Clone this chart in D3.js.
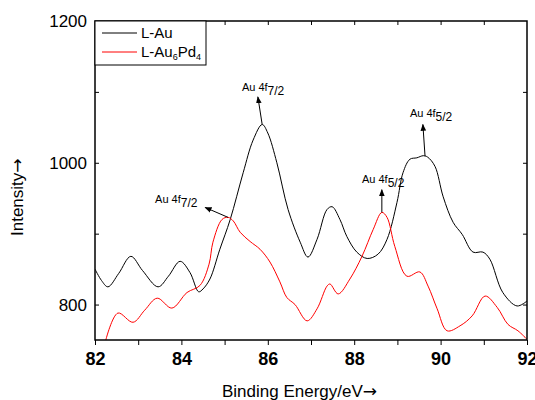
<!DOCTYPE html>
<html>
<head>
<meta charset="utf-8">
<script src="https://cdn.jsdelivr.net/npm/d3@7"></script>
<style>
  body { margin: 0; background: #fff; }
  svg { display: block; font-family: "Liberation Sans", Arial, sans-serif; }
</style>
</head>
<body>
<svg id="chart" width="535" height="400"></svg>
<script>
// binding energy (eV) / intensity
var auX = [82.0, 82.15, 82.3, 82.55, 82.83, 83.1, 83.46, 83.7, 83.97, 84.2, 84.4, 84.5, 84.66, 84.89, 85.13, 85.43, 85.66, 85.87, 86.0, 86.21, 86.47, 86.75, 86.93, 87.14, 87.37, 87.49, 87.67, 87.83, 88.06, 88.3, 88.55, 88.76, 88.99, 89.13, 89.29, 89.45, 89.6, 89.7, 89.87, 90.06, 90.29, 90.5, 90.75, 90.98, 91.14, 91.44, 91.77, 92.0];
var auY = [850, 834, 825, 844, 868, 848, 825, 840, 861, 845, 818, 822, 836, 878, 920, 986, 1032, 1054, 1042, 1000, 934, 888, 867, 892, 934, 938, 920, 896, 874, 865, 871, 892, 944, 986, 1005, 1007, 1010, 1008, 995, 952, 916, 899, 874, 874, 864, 817, 798, 805];

var pdX = [82.25, 82.53, 82.88, 83.15, 83.44, 83.78, 84.13, 84.43, 84.64, 84.73, 84.94, 85.08, 85.2, 85.36, 85.59, 85.82, 86.05, 86.28, 86.44, 86.63, 86.91, 87.14, 87.37, 87.44, 87.63, 87.9, 88.18, 88.44, 88.64, 88.76, 88.94, 89.22, 89.52, 89.71, 89.92, 90.15, 90.45, 90.73, 91.03, 91.31, 91.56, 91.79, 92.0];
var pdY = [750, 788, 775, 792, 809, 795, 817, 827, 857, 888, 920, 923, 918, 902, 889, 878, 860, 832, 810, 800, 777, 794, 826, 829, 815, 836, 868, 906, 930, 923, 882, 840, 846, 826, 794, 763, 770, 784, 812, 796, 772, 763, 751];

var xTicks = [82, 84, 86, 88, 90, 92];
var yTicks = [800, 1000, 1200];
var seriesNames = ["L-Au", "L-Au6Pd4"];

// peak labels: text anchor, arrow tail, arrow head (data units)
var notes = [
  { sub: "7/2", tx: 85.40, ty: 1101, x1: 85.87, y1: 1054, x2: 85.77, y2: 1093 },
  { sub: "7/2", tx: 83.39, ty: 943, x1: 85.08, y1: 923, x2: 84.55, y2: 937 },
  { sub: "5/2", tx: 89.29, ty: 1064, x1: 89.64, y1: 1009, x2: 89.59, y2: 1054 },
  { sub: "5/2", tx: 88.18, ty: 972, x1: 88.64, y1: 930, x2: 88.64, y2: 962 }
];

var svg = d3.select("#chart");
var m = { left: 95, top: 21, right: 8, bottom: 60 };
var w = 535 - m.left - m.right, h = 400 - m.top - m.bottom;

var x = d3.scaleLinear().domain([82, 92]).range([m.left, m.left + w]);
var y = d3.scaleLinear().domain([750, 1200]).range([m.top + h, m.top]);

svg.append("defs").append("marker")
    .attr("id", "head")
    .attr("viewBox", "0 0 10 10")
    .attr("refX", 9).attr("refY", 5)
    .attr("markerWidth", 7).attr("markerHeight", 7)
    .attr("markerUnits", "userSpaceOnUse")
    .attr("orient", "auto")
  .append("path")
    .attr("d", "M0,1L10,5L0,9Z")
    .attr("fill", "#000");

// curves
var line = d3.line()
    .x(function(d) { return x(d[0]) })
    .y(function(d) { return y(d[1]) })
    .curve(d3.curveCatmullRom.alpha(0.5));

svg.append("clipPath").attr("id", "clip")
  .append("rect").attr("x", m.left).attr("y", m.top).attr("width", w).attr("height", h);

var g = svg.append("g").attr("clip-path", "url(#clip)");
g.append("path")
    .datum(d3.zip(auX, auY))
    .attr("d", line)
    .attr("fill", "none")
    .attr("stroke", "#000")
    .attr("stroke-width", 1);
g.append("path")
    .datum(d3.zip(pdX, pdY))
    .attr("d", line)
    .attr("fill", "none")
    .attr("stroke", "#ff0000")
    .attr("stroke-width", 1);

// axes
var bottom = svg.append("g")
    .attr("transform", "translate(0," + (m.top + h) + ")")
    .call(d3.axisBottom(x).tickValues(d3.range(82, 92.1, 1)).tickSize(5).tickFormat(function(d) {
        return xTicks.indexOf(d) >= 0 ? d : "";
    }));
bottom.selectAll("text").attr("font-size", 18).attr("font-weight", "bold").attr("dy", "0.95em");

svg.append("g")
    .attr("transform", "translate(0," + m.top + ")")
    .call(d3.axisBottom(x).tickValues(d3.range(83, 92, 1)).tickSize(4).tickFormat(""));

svg.append("g")
    .attr("transform", "translate(" + m.left + ",0)")
    .call(d3.axisRight(y).tickValues([800, 900, 1000, 1100]).tickSize(4).tickFormat(""));
svg.append("g")
    .attr("transform", "translate(" + m.left + ",0)")
    .call(d3.axisLeft(y).tickValues(yTicks).tickSize(0).tickPadding(8).tickFormat(d3.format("d")))
    .selectAll("text").attr("font-size", 17);

svg.append("g")
    .attr("transform", "translate(" + (m.left + w) + ",0)")
    .call(d3.axisLeft(y).tickValues([800, 900, 1000, 1100]).tickSize(4).tickFormat(""));

svg.selectAll(".domain").remove();
svg.selectAll(".tick line").attr("stroke", "#000").attr("stroke-width", 1);
svg.selectAll(".tick text").attr("fill", "#000").attr("font-family", "Liberation Sans, Arial, sans-serif");

svg.append("rect")
    .attr("x", m.left).attr("y", m.top).attr("width", w).attr("height", h)
    .attr("fill", "none").attr("stroke", "#000").attr("stroke-width", 1.5);

// axis titles
var xt = svg.append("text").attr("x", 222).attr("y", 397).attr("font-size", 17);
xt.append("tspan").text("Binding Energy/eV");
xt.append("tspan").attr("font-family", "DejaVu Sans").text("\u2192");
var yt = svg.append("text").attr("transform", "translate(23,236) rotate(-90)").attr("font-size", 17);
yt.append("tspan").text("Intensity");
yt.append("tspan").attr("font-family", "DejaVu Sans").text("\u2192");

// legend
var lg = svg.append("g");
lg.append("rect").attr("x", m.left).attr("y", m.top).attr("width", 111).attr("height", 44)
    .attr("fill", "#fff").attr("stroke", "#000").attr("stroke-width", 1);
lg.append("line").attr("x1", 102).attr("x2", 137).attr("y1", 33).attr("y2", 33)
    .attr("stroke", "#000").attr("stroke-width", 1);
lg.append("line").attr("x1", 102).attr("x2", 137).attr("y1", 52).attr("y2", 52)
    .attr("stroke", "#ff0000").attr("stroke-width", 1);
lg.append("text").attr("x", 141).attr("y", 38).attr("font-size", 15).text(seriesNames[0]);
var t2 = lg.append("text").attr("x", 141).attr("y", 57).attr("font-size", 15);
t2.append("tspan").text("L-Au");
t2.append("tspan").attr("font-size", 9).attr("dy", 3).text("6");
t2.append("tspan").attr("dy", -3).text("Pd");
t2.append("tspan").attr("font-size", 9).attr("dy", 3).text("4");

// peak labels
notes.forEach(function(n) {
    svg.append("line")
        .attr("x1", x(n.x1)).attr("y1", y(n.y1))
        .attr("x2", x(n.x2)).attr("y2", y(n.y2))
        .attr("stroke", "#000").attr("stroke-width", 1)
        .attr("marker-end", "url(#head)");
    var t = svg.append("text").attr("x", x(n.tx)).attr("y", y(n.ty)).attr("font-size", 11);
    t.append("tspan").text("Au 4f");
    t.append("tspan").attr("dy", 4).attr("font-size", 12).text(n.sub);
});
</script>
</body>
</html>
